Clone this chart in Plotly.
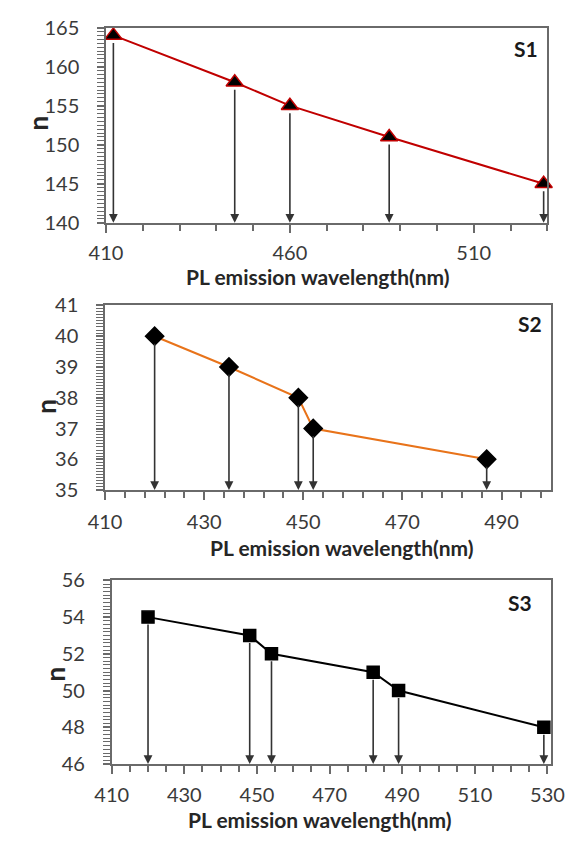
import plotly.graph_objects as go

# ---- data ----
s1_x = [412, 445, 460, 487, 529]
s1_n = [164, 158, 155, 151, 145]
s2_x = [420, 435, 449, 452, 487]
s2_n = [40, 39, 38, 37, 36]
s3_x = [420, 448, 454, 482, 489, 529]
s3_n = [54, 53, 52, 51, 50, 48]
panel_labels = ["S1", "S2", "S3"]
xtitle = "PL emission wavelength(nm)"
ytitle = "n"

W, H = 585, 844
FONT = "Lato"
TICKC = "#3a3a3a"
AXC = "#6a6a6a"

def px(x):
    return x / W

def py(y):
    return 1 - y / H

panels = [
    dict(x=s1_x, y=s1_n, xr=[410, 530], yr=[140, 165], xd=50, xm=10, yd=5, ym=0.5,
         dom_x=[94, 560], dom_y=[15, 216], sym="triangle-up", msize=15,
         mline="#C00000", lcol="#C00000", xstand=3,
         title_pos=(318, 271), n_pos=(22, 113), s_pos=(538, 37)),
    dict(x=s2_x, y=s2_n, xr=[410, 500], yr=[35, 41], xd=20, xm=4, yd=1, ym=0.1,
         dom_x=[93, 564], dom_y=[301, 491], sym="diamond", msize=14,
         mline="#000000", lcol="#E8731A", xstand=5,
         title_pos=(343, 550), n_pos=(31, 405), s_pos=(542, 320)),
    dict(x=s3_x, y=s3_n, xr=[410, 531], yr=[46, 56], xd=20, xm=5, yd=2, ym=0.2,
         dom_x=[100, 564], dom_y=[584, 773], sym="square", msize=12,
         mline="#000000", lcol="#000000", xstand=4,
         title_pos=(320, 830), n_pos=(40, 680), s_pos=(531, 607)),
]

fig = go.Figure()
annotations = []
layout = dict(
    width=W, height=H, margin=dict(l=0, r=0, t=0, b=0),
    paper_bgcolor="white", plot_bgcolor="white", showlegend=False,
    font=dict(family=FONT, color=TICKC),
)

for i, p in enumerate(panels, start=1):
    xa = "x" if i == 1 else f"x{i}"
    ya = "y" if i == 1 else f"y{i}"
    xkey = "xaxis" if i == 1 else f"xaxis{i}"
    ykey = "yaxis" if i == 1 else f"yaxis{i}"

    fig.add_trace(go.Scatter(
        x=p["x"], y=p["y"], mode="lines+markers", xaxis=xa, yaxis=ya,
        line=dict(color=p["lcol"], width=2),
        marker=dict(symbol=p["sym"], size=p["msize"], color="black",
                    line=dict(color=p["mline"], width=1.5)),
        cliponaxis=False,
    ))

    layout[xkey] = dict(
        domain=[px(p["dom_x"][0]), px(p["dom_x"][1])], anchor=ya,
        range=p["xr"], tickmode="linear", tick0=410, dtick=p["xd"],
        ticks="outside", ticklen=8, tickwidth=1.5, tickcolor=AXC,
        minor=dict(tick0=410, dtick=p["xm"], ticks="outside", ticklen=6,
                   tickwidth=1.5, tickcolor=AXC, showgrid=False),
        showline=True, linecolor=AXC, linewidth=1.5, mirror=True,
        showgrid=False, zeroline=False, fixedrange=True,
        tickfont=dict(family=FONT, size=20, color=TICKC),
        ticklabelstandoff=p["xstand"],
    )
    layout[ykey] = dict(
        domain=[py(p["dom_y"][1]), py(p["dom_y"][0])], anchor=xa,
        range=p["yr"], tickmode="linear", tick0=p["yr"][0], dtick=p["yd"],
        ticks="outside", ticklen=7, tickwidth=1.5, tickcolor=AXC,
        minor=dict(dtick=p["ym"], ticks="outside", ticklen=7,
                   tickwidth=1.1, tickcolor=AXC, showgrid=False),
        showline=True, linecolor=AXC, linewidth=1.5, mirror=True,
        showgrid=False, zeroline=False, fixedrange=True,
        tickfont=dict(family=FONT, size=20, color=TICKC),
        ticklabelstandoff=14,
    )

    # drop lines with arrowheads down to the x-axis
    for xv, yv in zip(p["x"], p["y"]):
        annotations.append(dict(
            x=xv, y=p["yr"][0], ax=xv, ay=yv, xref=xa, yref=ya, axref=xa, ayref=ya,
            text="", showarrow=True, arrowhead=2, arrowsize=1.1, arrowwidth=1.6,
            arrowcolor="#333333", startstandoff=6, standoff=0,
        ))

    tx, ty = p["title_pos"]
    annotations.append(dict(
        x=px(tx), y=py(ty), xref="paper", yref="paper", text=f"<b>{xtitle}</b>",
        showarrow=False, xanchor="center", yanchor="middle",
        font=dict(family=FONT, size=21, color="#262626"),
    ))
    nx, ny = p["n_pos"]
    annotations.append(dict(
        x=px(nx), y=py(ny), xref="paper", yref="paper", text=f"<b>{ytitle}</b>",
        showarrow=False, xanchor="center", yanchor="middle", textangle=-90,
        font=dict(family=FONT, size=26, color="#262626"),
    ))
    sx, sy = p["s_pos"]
    annotations.append(dict(
        x=px(sx), y=py(sy), xref="paper", yref="paper", text=f"<b>{panel_labels[i-1]}</b>",
        showarrow=False, xanchor="center", yanchor="middle",
        font=dict(family=FONT, size=21, color="#1a1a1a"),
    ))

layout["annotations"] = annotations
fig.update_layout(**layout)
fig.write_html("out.html")
